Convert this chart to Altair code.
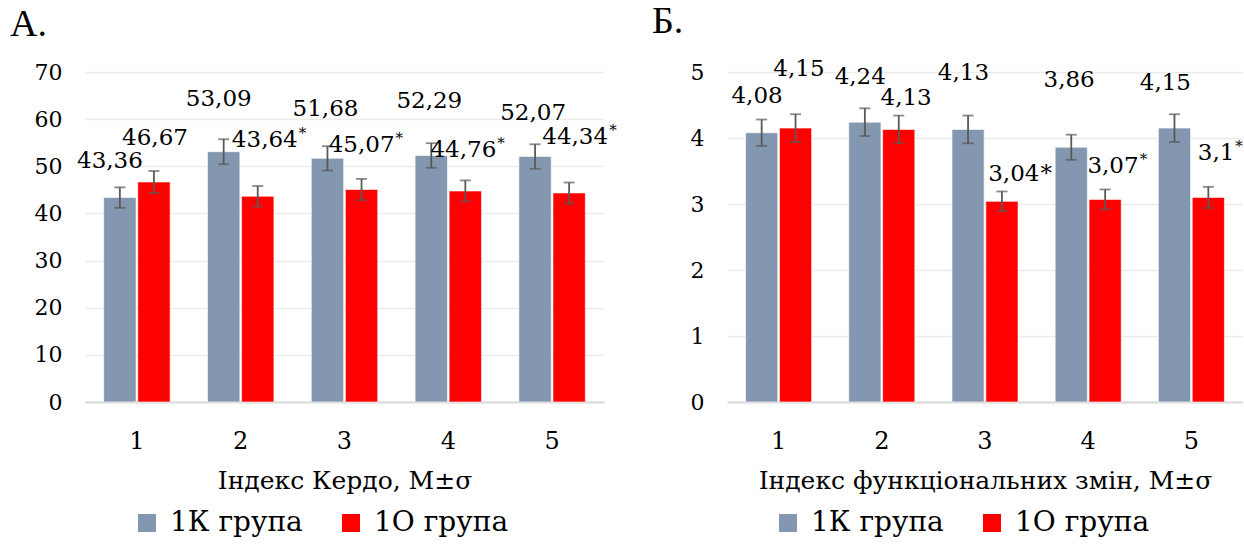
import altair as alt
import pandas as pd

# ---------------- data ----------------
categories = ["1", "2", "3", "4", "5"]
groups = ["1К група", "1О група"]

kerdo_k = [43.36, 53.09, 51.68, 52.29, 52.07]
kerdo_o = [46.67, 43.64, 45.07, 44.76, 44.34]
kerdo_k_sd = [2.17, 2.65, 2.58, 2.61, 2.60]
kerdo_o_sd = [2.33, 2.18, 2.25, 2.24, 2.22]

func_k = [4.08, 4.24, 4.13, 3.86, 4.15]
func_o = [4.15, 4.13, 3.04, 3.07, 3.10]
func_k_sd = [0.20, 0.21, 0.21, 0.19, 0.21]
func_o_sd = [0.21, 0.21, 0.15, 0.15, 0.16]

# significance marks for group 1О ("sup" = small raised *, "full" = full-size *)
kerdo_o_mark = ["", "sup", "sup", "sup", "sup"]
func_o_mark = ["", "", "full", "sup", "sup"]

# data-label placement: label height in data units, right edge offset from bar centre (px)
kerdo_k_label_y = [51.2, 64.2, 62.1, 63.9, 61.2]
kerdo_o_label_y = [55.9, 55.5, 54.5, 53.4, 56.2]
kerdo_k_label_dx = [23, 28, 31, 31, 31]
kerdo_o_label_dx = [34, 40, 33, 31, 39]
func_k_label_y = [4.64, 4.92, 4.99, 4.88, 4.83]
func_o_label_y = [5.04, 4.61, 3.45, 3.58, 3.77]
func_k_label_dx = [21, 21, 21, 23.5, 16.5]
func_o_label_dx = [29, 33, 37.5, 33.5, 26]

FONT = "DejaVu Serif"
TITLE_FONT = "Liberation Serif"
COLORS = ["#8497B0", "#FF0000"]


def build_frame(k, o, ksd, osd, omark, kly, oly, kdx, odx):
    rows = []
    for i, c in enumerate(categories):
        rows.append(dict(cat=c, grp=groups[0], val=k[i], lo=k[i] - ksd[i], hi=k[i] + ksd[i],
                         label=f"{k[i]:g}".replace(".", ","), star="", ly=kly[i], dx=kdx[i]))
        rows.append(dict(cat=c, grp=groups[1], val=o[i], lo=o[i] - osd[i], hi=o[i] + osd[i],
                         label=f"{o[i]:g}".replace(".", ","), star=omark[i], ly=oly[i], dx=odx[i]))
    df = pd.DataFrame(rows)
    df["rid"] = range(len(df))
    return df


def panel(df, title, xtitle, ymax, ystep, width, height, legend_x, legend_y):
    yscale = alt.Scale(domain=[0, ymax], nice=False, zero=True)
    xscale = alt.Scale(paddingInner=0.36, paddingOuter=0.18)
    xoff = alt.XOffset("grp:N", sort=groups, scale=alt.Scale(paddingInner=0.05))
    xenc = alt.X("cat:N", sort=categories, scale=xscale,
                 axis=alt.Axis(title=xtitle, labelAngle=0, ticks=False, tickSize=0,
                               labelPadding=27, labelFontSize=24, labelFont=FONT,
                               labelColor="black", titleFont=FONT, titleFontSize=25,
                               titleFontWeight="normal", titleColor="black", titlePadding=15,
                               domainColor="#D9D9D9", domainWidth=2, grid=False))
    yaxis = alt.Axis(values=list(range(0, ymax + 1, ystep)), format="d", title=None,
                     domain=False, ticks=False, tickSize=0, labelPadding=23, labelFontSize=22,
                     labelFont=FONT, labelColor="black", grid=True,
                     gridColor="#EBEBEB", gridWidth=1.5)
    base = alt.Chart(df)
    bars = base.mark_bar(stroke="white", strokeWidth=0.6).encode(
        x=xenc,
        xOffset=xoff,
        y=alt.Y("val:Q", scale=yscale, axis=yaxis),
        color=alt.Color("grp:N", sort=groups,
                        scale=alt.Scale(domain=groups, range=COLORS),
                        legend=alt.Legend(orient="none", legendX=legend_x, legendY=legend_y,
                                          direction="horizontal", title=None,
                                          symbolType="square", symbolSize=324,
                                          symbolStrokeWidth=0, labelFontSize=28,
                                          labelFont=FONT, labelColor="black",
                                          labelOffset=9, columnPadding=34, padding=0)),
    )
    rule = base.mark_rule(color="#595959", strokeWidth=1.8).encode(
        x=alt.X("cat:N", sort=categories), xOffset=xoff,
        y=alt.Y("lo:Q"), y2="hi:Q")
    cap_hi = base.mark_tick(color="#595959", thickness=1.8, size=11, orient="horizontal").encode(
        x=alt.X("cat:N", sort=categories), xOffset=xoff, y=alt.Y("hi:Q"))
    cap_lo = base.mark_tick(color="#595959", thickness=1.8, size=11, orient="horizontal").encode(
        x=alt.X("cat:N", sort=categories), xOffset=xoff, y=alt.Y("lo:Q"))

    layers = [bars, rule, cap_hi, cap_lo]
    for _, r in df.iterrows():
        sel = base.transform_filter(alt.datum.rid == int(r["rid"]))
        enc = dict(x=alt.X("cat:N", sort=categories), xOffset=xoff, y=alt.Y("ly:Q"))
        layers.append(sel.mark_text(align="right", baseline="middle", dx=float(r["dx"]),
                                    font=FONT, fontSize=23, color="black").encode(
            text="label:N", **enc))
        if r["star"] == "sup":
            layers.append(sel.mark_text(align="left", baseline="middle", dx=float(r["dx"]) + 1,
                                        dy=-7, font=FONT, fontSize=15, color="black").encode(
                text=alt.value("*"), **enc))
        elif r["star"] == "full":
            layers.append(sel.mark_text(align="left", baseline="middle", dx=float(r["dx"]) + 1,
                                        font=FONT, fontSize=23, color="black").encode(
                text=alt.value("*"), **enc))

    return alt.layer(*layers).properties(
        width=width, height=height,
        title=alt.TitleParams(title, anchor="start", frame="group", dx=-75, fontSize=38,
                              font=TITLE_FONT, fontWeight="normal", color="black", offset=17),
    )


kerdo_df = build_frame(kerdo_k, kerdo_o, kerdo_k_sd, kerdo_o_sd, kerdo_o_mark,
                       kerdo_k_label_y, kerdo_o_label_y, kerdo_k_label_dx, kerdo_o_label_dx)
func_df = build_frame(func_k, func_o, func_k_sd, func_o_sd, func_o_mark,
                      func_k_label_y, func_o_label_y, func_k_label_dx, func_o_label_dx)

left = panel(kerdo_df, "А.", "Індекс Кердо, M±σ", 70, 10, 519, 330, 48, 437)
right = panel(func_df, "Б.", "Індекс функціональних змін, M±σ", 5, 1, 516, 330, 47, 437)

chart = alt.hconcat(left, right, spacing=123, bounds="flush").resolve_scale(
    x="independent", y="independent", color="independent", xOffset="independent"
).resolve_legend(color="independent").properties(
    padding={"left": 10, "top": 3, "right": 0, "bottom": 0}
).configure(background="white").configure_view(stroke=None)

chart.save("out.html", embed_options={"renderer": "svg", "actions": False})
